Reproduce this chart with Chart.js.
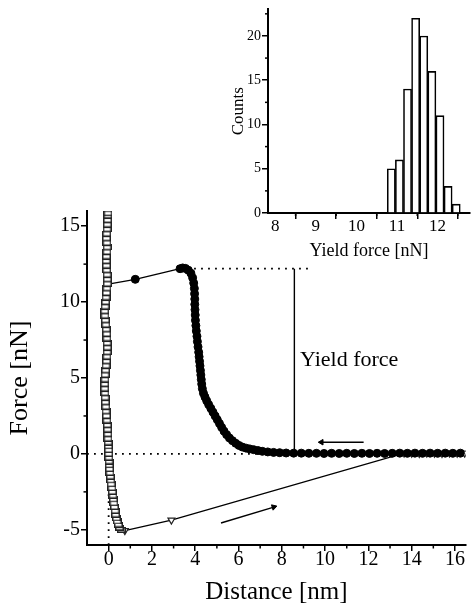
<!DOCTYPE html>
<html><head><meta charset="utf-8">
<script src="https://cdn.jsdelivr.net/npm/chart.js@4/dist/chart.umd.min.js"></script>
<style>
html,body{margin:0;padding:0;background:#fff;}
#wrap{position:relative;width:471px;height:612px;background:#fff;}
#main{position:absolute;left:0;top:0;}
#inset{position:absolute;left:200px;top:0;pointer-events:none;}
</style></head><body>
<div id="wrap">
<canvas id="main" width="471" height="612"></canvas>
<canvas id="inset" width="271" height="270"></canvas>
</div>
<script>
// ---------- main force-distance curve data ----------
// approach, open triangles (from far to contact)
const approachTriX = [16.45, 16.1, 15.75, 15.4, 15.05, 14.7, 14.35, 14.0, 13.65, 2.9, 0.75];
const approachTriY = [0.05, 0.04, 0.05, 0.03, 0.04, 0.05, 0.03, 0.04, 0.05, -4.36, -5.05];
// approach, open squares (contact region, near-vertical)
const approachSqX = [0.58,0.5,0.45,0.4,0.36,0.32,0.3,0.27,0.24,0.22,0.2,0.17,0.15,0.12,0.1,0.08,0.06,0.04,0.03,0.02,0.01,0.0,0.0,-0.01,-0.02,-0.03,-0.04,-0.05,-0.06,-0.08,-0.1,-0.12,-0.13,-0.15,-0.16,-0.17,-0.18,-0.18,-0.17,-0.16,-0.14,-0.12,-0.1,-0.08,-0.07,-0.06,-0.07,-0.08,-0.09,-0.11,-0.13,-0.15,-0.17,-0.18,-0.16,-0.14,-0.12,-0.1,-0.08,-0.06,-0.06,-0.07,-0.09,-0.1,-0.11,-0.1,-0.08,-0.07,-0.08,-0.1,-0.09,-0.07,-0.06,-0.05,-0.04,-0.03];
const approachSqY = [-5.0,-4.85,-4.65,-4.45,-4.25,-4.0,-3.75,-3.5,-3.25,-3.0,-2.75,-2.5,-2.25,-2.0,-1.75,-1.5,-1.25,-1.0,-0.75,-0.5,-0.25,0.0,0.25,0.5,0.75,1.0,1.3,1.6,1.9,2.2,2.5,2.8,3.1,3.4,3.7,4.0,4.3,4.6,4.9,5.2,5.5,5.8,6.1,6.4,6.7,7.0,7.3,7.6,7.9,8.2,8.5,8.8,9.1,9.4,9.7,10.0,10.3,10.6,10.9,11.2,11.5,11.8,12.1,12.4,12.7,13.0,13.3,13.6,13.9,14.2,14.5,14.8,15.1,15.4,15.7,15.85];
// retract, filled circles
const retractX = [0.05,1.23,3.3,3.42,3.55,3.68,3.8,3.88,3.93,3.96,3.97,3.98,3.98,3.99,4.0,4.01,4.03,4.05,4.08,4.1,4.13,4.16,4.18,4.2,4.22,4.24,4.26,4.28,4.3,4.33,4.38,4.45,4.53,4.62,4.72,4.82,4.92,5.02,5.12,5.22,5.33,5.45,5.58,5.72,5.87,6.02,6.18,6.35,6.52,6.7,6.9,7.1,7.35,7.62,7.9,8.2,8.55,8.9,9.25,9.6,9.95,10.3,10.65,11.0,11.35,11.7,12.05,12.4,12.75,13.1,13.45,13.8,14.15,14.5,14.85,15.2,15.55,15.9,16.25];
const retractY = [11.2,11.5,12.2,12.25,12.22,12.1,11.9,11.6,11.25,10.9,10.55,10.2,9.85,9.5,9.15,8.8,8.45,8.1,7.75,7.4,7.05,6.7,6.4,6.1,5.8,5.5,5.2,4.9,4.6,4.3,4.0,3.75,3.5,3.25,3.0,2.75,2.5,2.25,2.0,1.75,1.5,1.27,1.05,0.87,0.7,0.56,0.45,0.38,0.33,0.28,0.22,0.17,0.13,0.1,0.08,0.06,0.05,0.05,0.04,0.04,0.03,0.04,0.03,0.04,0.03,0.04,0.03,0.04,0.03,0.04,0.05,0.04,0.05,0.04,0.05,0.04,0.05,0.04,0.05];
// guide lines and annotation
const yieldForce = 12.2;
const yieldLineX = 8.58;
const yieldDotStartX = 3.3;
const yieldDotEndX = 9.3;
const approachArrow = {x: [5.19, 7.63], y: [-4.55, -3.5]};
const retractArrow = {x: [11.78, 9.83], y: [0.77, 0.77]};
const yieldLabel = {text: 'Yield force', x: 8.84, y: 6.2};
// axes
const xRange = [-1, 16.5];
const yRange = [-6, 16];
const xMajorTicks = [0, 2, 4, 6, 8, 10, 12, 14, 16];
const xMinorTicks = [1, 3, 5, 7, 9, 11, 13, 15];
const yMajorTicks = [-5, 0, 5, 10, 15];
const yMinorTicks = [-2.5, 2.5, 7.5, 12.5];

// ---------- inset histogram data ----------
const binCenters = [10.86, 11.06, 11.26, 11.46, 11.66, 11.86, 12.06, 12.26, 12.46];
const binCounts  = [5, 6, 14, 22, 20, 16, 11, 3, 1];
const insetXRange = [7.82, 12.8];
const insetYRange = [0, 23];
const insetXMajor = [8, 9, 10, 11, 12];
const insetXMinor = [8.5, 9.5, 10.5, 11.5, 12.5];
const insetYMajor = [0, 5, 10, 15, 20];
const insetYMinor = [2.5, 7.5, 12.5, 17.5, 22.5];

const SERIF = '"Liberation Serif", "Times New Roman", serif';
const pts = (xs, ys) => xs.map((x, i) => ({x, y: ys[i]}));

// open rectangular marker for the contact-region points
const sqMarker = (() => {
  const c = document.createElement('canvas');
  c.width = 9; c.height = 6;
  const g = c.getContext('2d');
  g.fillStyle = '#fff'; g.fillRect(0, 0, 9, 6);
  g.strokeStyle = '#222'; g.lineWidth = 1.5; g.strokeRect(0.75, 0.75, 7.5, 4.5);
  return c;
})();

const minorTicks = {
  id: 'minorTicks',
  afterDraw(chart, args, opts) {
    const ctx = chart.ctx, xs = chart.scales.x, ys = chart.scales.y;
    ctx.save();
    ctx.strokeStyle = '#000';
    ctx.lineWidth = 1.5;
    (opts.x || []).forEach(v => {
      const p = xs.getPixelForValue(v);
      ctx.beginPath(); ctx.moveTo(p, xs.top); ctx.lineTo(p, xs.top + opts.len); ctx.stroke();
    });
    (opts.y || []).forEach(v => {
      const p = ys.getPixelForValue(v);
      ctx.beginPath(); ctx.moveTo(ys.right, p); ctx.lineTo(ys.right - opts.len, p); ctx.stroke();
    });
    ctx.restore();
  }
};

const textLabel = {
  id: 'textLabel',
  afterDatasetsDraw(chart, args, opts) {
    if (!opts.text) return;
    const {ctx, scales: {x, y}} = chart;
    ctx.save();
    ctx.font = opts.size + 'px ' + SERIF;
    ctx.fillStyle = '#000';
    ctx.textAlign = 'left';
    ctx.textBaseline = 'middle';
    ctx.fillText(opts.text, x.getPixelForValue(opts.x), y.getPixelForValue(opts.y));
    ctx.restore();
  }
};

function arrowRotation(ctx) {
  const ds = ctx.dataset.data;
  const sx = ctx.chart.scales.x, sy = ctx.chart.scales.y;
  const a = ds[0], b = ds[ds.length - 1];
  const dx = sx.getPixelForValue(b.x) - sx.getPixelForValue(a.x);
  const dy = sy.getPixelForValue(b.y) - sy.getPixelForValue(a.y);
  return Math.atan2(dy, dx) * 180 / Math.PI + 90;
}
function arrowDataset(arr) {
  return {
    data: pts(arr.x, arr.y), showLine: true, borderColor: '#000', borderWidth: 1.4,
    pointStyle: 'triangle', backgroundColor: '#000', pointBorderColor: '#000',
    pointRadius: c => c.dataIndex === 1 ? 3.2 : 0, pointBorderWidth: 1,
    pointRotation: arrowRotation, order: 5
  };
}

function axisCommon(fontSize, pad) {
  return {
    grid: {drawOnChartArea: false, drawTicks: true, tickLength: 6, color: '#000', lineWidth: 1.5},
    border: {display: true, color: '#000', width: 2},
    ticks: {font: {family: SERIF, size: fontSize}, color: '#000', padding: pad, maxRotation: 0, autoSkip: false}
  };
}

new Chart(document.getElementById('main'), {
  type: 'line',
  data: {
    datasets: [
      { // open squares, contact region
        data: pts(approachSqX, approachSqY), showLine: true, borderColor: '#222', borderWidth: 1.2,
        pointStyle: sqMarker, pointRadius: 4, order: 1
      },
      { // retract filled circles
        data: pts(retractX, retractY), showLine: true, borderColor: '#000', borderWidth: 1.3,
        pointStyle: 'circle', pointRadius: c => c.dataIndex === 0 ? 0 : 4, pointBorderWidth: 1,
        pointBackgroundColor: '#000', pointBorderColor: '#000', order: 2
      },
      { // approach open triangles
        data: pts(approachTriX, approachTriY), showLine: true, borderColor: '#000', borderWidth: 1.3,
        pointStyle: 'triangle', pointRotation: 180, pointRadius: 4, pointBorderWidth: 1.2,
        pointBackgroundColor: '#fff', pointBorderColor: '#222', order: 3
      },
      arrowDataset(approachArrow),
      arrowDataset(retractArrow),
      { // yield force vertical line
        data: [{x: yieldLineX, y: 0}, {x: yieldLineX, y: yieldForce}], showLine: true,
        borderColor: '#000', borderWidth: 1.4, pointRadius: 0, order: 6
      },
      { // dotted yield level
        data: [{x: yieldDotStartX, y: yieldForce}, {x: yieldDotEndX, y: yieldForce}], showLine: true,
        borderColor: '#000', borderWidth: 1.8, borderDash: [1.8, 5.2], pointRadius: 0, order: 7
      },
      { // dotted zero force
        data: [{x: xRange[0], y: 0}, {x: xRange[1], y: 0}], showLine: true,
        borderColor: '#000', borderWidth: 1.8, borderDash: [1.8, 5.2], pointRadius: 0, order: 8
      },
      { // dotted zero distance
        data: [{x: 0, y: yRange[0]}, {x: 0, y: 0}], showLine: true,
        borderColor: '#000', borderWidth: 1.8, borderDash: [1.8, 5.2], pointRadius: 0, order: 9
      }
    ]
  },
  options: {
    responsive: false, animation: false, events: [],
    layout: {padding: {top: 211, right: 1, left: 0, bottom: 0}},
    plugins: {
      legend: {display: false}, tooltip: {enabled: false},
      minorTicks: {x: xMinorTicks, y: yMinorTicks, len: 3.5},
      textLabel: {text: yieldLabel.text, x: yieldLabel.x, y: yieldLabel.y, size: 22}
    },
    scales: {
      x: Object.assign(axisCommon(20, -3), {
        type: 'linear', min: xRange[0], max: xRange[1],
        afterBuildTicks: s => { s.ticks = xMajorTicks.map(v => ({value: v})); },
        afterFit: s => { s.height = 67; },
        title: {display: true, text: 'Distance [nm]', color: '#000', font: {family: SERIF, size: 25}, padding: {top: 0, bottom: 5}}
      }),
      y: Object.assign(axisCommon(20, 1), {
        type: 'linear', min: yRange[0], max: yRange[1],
        afterBuildTicks: s => { s.ticks = yMajorTicks.map(v => ({value: v})); },
        afterFit: s => { s.width = 87; },
        title: {display: true, text: 'Force [nN]', color: '#000', font: {family: SERIF, size: 26}, padding: {top: 5, bottom: 0}}
      })
    }
  },
  plugins: [minorTicks, textLabel]
});

new Chart(document.getElementById('inset'), {
  type: 'bar',
  data: {
    datasets: [{
      data: pts(binCenters, binCounts), backgroundColor: '#fff', borderColor: '#000', borderWidth: 1.6,
      barPercentage: 1, categoryPercentage: 1
    }]
  },
  options: {
    responsive: false, animation: false, events: [],
    layout: {padding: {top: 5, right: 1, left: 0, bottom: 0}},
    plugins: {
      legend: {display: false}, tooltip: {enabled: false},
      minorTicks: {x: insetXMinor, y: insetYMinor, len: 3}
    },
    scales: {
      x: Object.assign(axisCommon(17, -3), {
        type: 'linear', min: insetXRange[0], max: insetXRange[1], offset: false,
        afterBuildTicks: s => { s.ticks = insetXMajor.map(v => ({value: v})); },
        afterFit: s => { s.height = 57; },
        title: {display: true, text: 'Yield force [nN]', color: '#000', font: {family: SERIF, size: 18}, padding: {top: 0, bottom: 8}}
      }),
      y: Object.assign(axisCommon(14, 1), {
        type: 'linear', min: insetYRange[0], max: insetYRange[1],
        afterBuildTicks: s => { s.ticks = insetYMajor.map(v => ({value: v})); },
        afterFit: s => { s.width = 68; },
        title: {display: true, text: 'Counts', color: '#000', font: {family: SERIF, size: 17}, padding: {top: 28, bottom: 0}}
      })
    }
  },
  plugins: [minorTicks]
});
</script>
</body></html>
